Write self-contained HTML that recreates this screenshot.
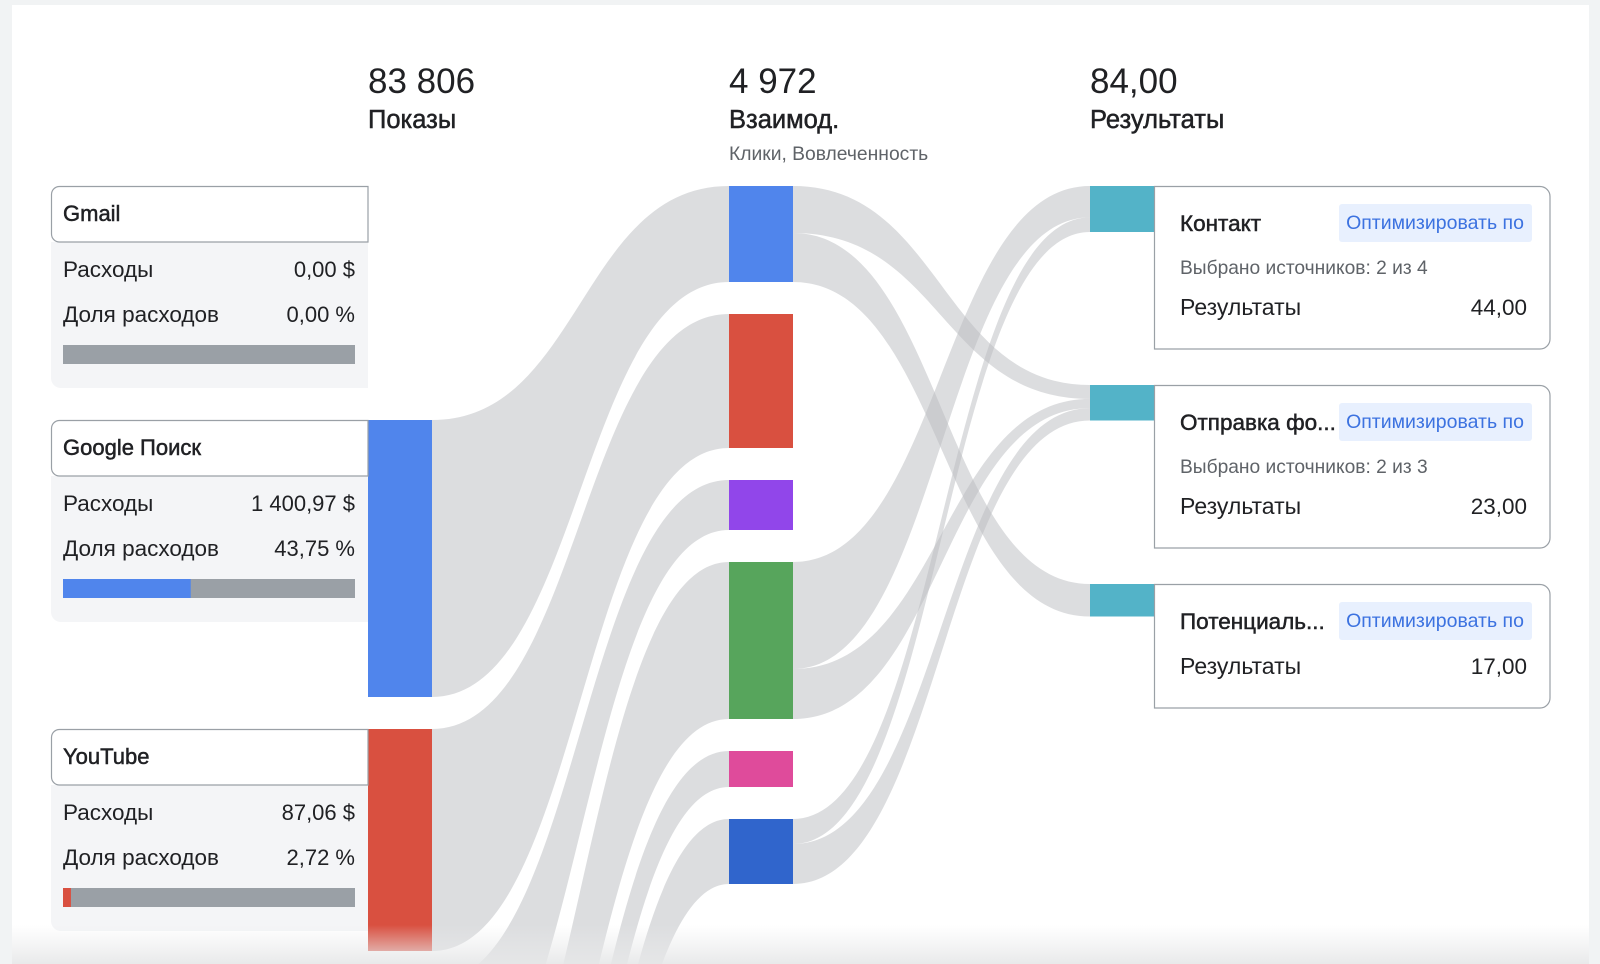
<!DOCTYPE html>
<html><head><meta charset="utf-8">
<style>
html,body{margin:0;padding:0;background:#f1f3f4;}
body{width:1600px;height:964px;overflow:hidden;position:relative;font-family:"Liberation Sans","Noto Sans CJK SC",sans-serif;}
#page{position:absolute;left:12px;top:5px;width:1577px;height:959px;background:#fff;}
svg{position:absolute;left:0;top:0;overflow:hidden;}
text{font-family:"Liberation Sans","Noto Sans CJK SC",sans-serif;}
.ttl{stroke:#202124;stroke-width:0.5px;}
</style></head>
<body>
<div id="page"></div>
<svg id="chart" width="1600" height="964" viewBox="0 0 1600 964">
  <defs>
    <linearGradient id="fade" x1="0" y1="0" x2="0" y2="1">
      <stop offset="0" stop-color="#e9eaeb" stop-opacity="0"/>
      <stop offset="1" stop-color="#e6e7e8" stop-opacity="0.9"/>
    </linearGradient>
    <clipPath id="clipall"><rect x="0" y="0" width="1600" height="964"/></clipPath>
  </defs>
  <g clip-path="url(#clipall)">
  <g id="links"></g>
  <g id="nodes"></g>
  <g id="cards"></g>
  <g id="headers"></g>
  </g>
  <rect x="12" y="925" width="1577" height="39" fill="url(#fade)"/>
</svg>
<script>
// ---- data ----
var headerValues = ["83 806", "4 972", "84,00"];
var headerTitles = ["Показы", "Взаимод.", "Результаты"];
var headerSubs = ["", "Клики, Вовлеченность", ""];

var sourceNames = ["Gmail", "Google Поиск", "YouTube", "Discover", "КМС", "Партнеры", "Прочее"];
var sourceImpressions = [0, 27700, 22200, 15000, 15000, 15000, 15000];
var sourceSpend = ["0,00 $", "1 400,97 $", "87,06 $", "", "", "", ""];
var sourceShare = [0, 43.75, 2.72, 0, 0, 0, 0];
var sourceShareText = ["0,00 %", "43,75 %", "2,72 %", "", "", "", ""];

var midClicks = [960, 1340, 500, 1570, 360, 650];
var midColors = ["#5085ec", "#d95040", "#9146ea", "#57a55c", "#df4b9b", "#3065cc"];

var resultNames = ["Контакт", "Отправка фо...", "Потенциаль..."];
var resultValues = [44, 23, 17];
var resultValueText = ["44,00", "23,00", "17,00"];
var resultSources = ["Выбрано источников: 2 из 4", "Выбрано источников: 2 из 3", ""];

// source -> middle links
var l1Src = [1, 2, 3, 4, 5, 6];
var l1Tgt = [0, 1, 2, 3, 4, 5];
var l1Imp = [27700, 22200, 15000, 15000, 15000, 15000];
// middle -> result links
var l2Src = [0, 0, 3, 3, 5, 5];
var l2Tgt = [1, 2, 0, 1, 0, 1];
var l2Clicks = [470, 490, 1070, 500, 250, 400];
var l2Results = [9, 17, 30, 6, 14, 8];

// ---- layout ----
var NS = "http://www.w3.org/2000/svg";
function mk(tag, attrs, parent) {
  var e = document.createElementNS(NS, tag);
  for (var k in attrs) e.setAttribute(k, attrs[k]);
  parent.appendChild(e);
  return e;
}
var colX = [368, 729, 1090];
var nodeW = [64, 64, 64];
var impScale = 0.01, clickScale = 0.1;
var gap = 32, top0 = 186;
var cardMinH = 202;
var VIS = 964;

var gLinks = document.getElementById("links");
var gNodes = document.getElementById("nodes");
var gCards = document.getElementById("cards");
var gHead = document.getElementById("headers");

// headers
for (var i = 0; i < 3; i++) {
  var t = mk("text", {x: colX[i], y: 93, "font-size": 35, fill: "#202124"}, gHead);
  
  
  t.textContent = headerValues[i];
  var t2 = mk("text", {x: colX[i], y: 128, "font-size": 25.5, fill: "#202124", "class": "ttl"}, gHead);
  
  
  t2.textContent = headerTitles[i];
  if (headerSubs[i]) {
    var t3 = mk("text", {x: colX[i], y: 160, "font-size": 19.3, fill: "#5f6368"}, gHead);
    
    
    t3.textContent = headerSubs[i];
  }
}

// sources
var srcY = [], srcH = [];
var y = top0;
for (var i = 0; i < sourceNames.length; i++) {
  srcY.push(y);
  var h = sourceImpressions[i] * impScale;
  srcH.push(h);
  y = Math.max(y + h, y + cardMinH) + gap;
}
for (var i = 0; i < sourceNames.length; i++) {
  var sy = srcY[i];
  if (srcH[i] > 0) {
    var r = mk("rect", {x: colX[0], y: sy, width: nodeW[0], height: srcH[i], fill: i === 1 ? "#5085ec" : (i === 2 ? "#d95040" : "#9aa0a6")}, gNodes);
    
    
  }
  if (sy > VIS) continue;
  var card = mk("g", {}, gCards);
  
  
  mk("path", {d: "M368," + (sy + 146 + 56) + " H61 a10,10 0 0 1 -10,-10 V" + (sy + 56) + " H368 Z", fill: "#f4f5f7"}, card);
  mk("path", {d: "M368," + (sy + 0.5) + " H59.5 a8,8 0 0 0 -8,8 V" + (sy + 48) + " a8,8 0 0 0 8,8 H368 Z", fill: "#fff", stroke: "#9aa0a6", "stroke-width": 1.2}, card);
  var nm = mk("text", {x: 63, y: sy + 35, "font-size": 22, fill: "#202124", "class": "ttl"}, card);
  
  
  nm.textContent = sourceNames[i];
  var a = mk("text", {x: 63, y: sy + 91, "font-size": 22.5, fill: "#202124"}, card);
  
  
  a.textContent = "Расходы";
  var b = mk("text", {x: 355, y: sy + 91, "font-size": 22, fill: "#202124", "text-anchor": "end"}, card);
  
  
  b.textContent = sourceSpend[i];
  var c = mk("text", {x: 63, y: sy + 136, "font-size": 22.5, fill: "#202124"}, card);
  
  
  c.textContent = "Доля расходов";
  var d = mk("text", {x: 355, y: sy + 136, "font-size": 22, fill: "#202124", "text-anchor": "end"}, card);
  
  
  d.textContent = sourceShareText[i];
  var bw = 292;
  var bg = mk("rect", {x: 63, y: sy + 159, width: bw, height: 19, fill: "#9aa0a6"}, card);
  
  
  var fg = mk("rect", {x: 63, y: sy + 159, width: bw * sourceShare[i] / 100, height: 19, fill: i === 2 ? "#d95040" : "#5085ec"}, card);
  
  
}

// middle nodes
var midY = [], midH = [];
y = top0;
for (var i = 0; i < midClicks.length; i++) {
  midY.push(y);
  var h = midClicks[i] * clickScale;
  midH.push(h);
  y += h + gap;
  var r = mk("rect", {x: colX[1], y: midY[i], width: nodeW[1], height: h, fill: midColors[i]}, gNodes);
  
  
}

// result nodes + cards
var resY = [], resH = [];
var cardH = [163, 163, 124];
y = top0;
for (var i = 0; i < resultValues.length; i++) {
  resY.push(y);
  var h = 24 + resultValues[i] * 0.5;
  resH.push(h);
  var r = mk("rect", {x: colX[2], y: y, width: nodeW[2], height: h, fill: "#53b3c8"}, gNodes);
  
  
  var card = mk("g", {}, gCards);
  
  
  var ch = cardH[i];
  mk("path", {d: "M1154.5," + (y + 0.5) + " H1540 a10,10 0 0 1 10,10 V" + (y + ch - 10) + " a10,10 0 0 1 -10,10 H1154.5 Z", fill: "#fff", stroke: "#9aa0a6", "stroke-width": 1.2}, card);
  var t = mk("text", {x: 1180, y: y + 45, "font-size": 22.5, fill: "#202124", "class": "ttl"}, card);
  
  
  t.textContent = resultNames[i];
  var btn = mk("g", {}, card);
  
  
  mk("rect", {x: 1339, y: y + 18, width: 193, height: 38, rx: 3, fill: "#e8f0fe"}, btn);
  var bt = mk("text", {x: 1435, y: y + 43, "font-size": 19.5, fill: "#3c72e0", "text-anchor": "middle"}, btn);
  bt.textContent = "Оптимизировать по";
  var rowY = y + 129;
  if (resultSources[i]) {
    var s = mk("text", {x: 1180, y: y + 88, "font-size": 19.2, fill: "#5f6368"}, card);
    
    
    s.textContent = resultSources[i];
  } else {
    rowY = y + 90;
  }
  var rl = mk("text", {x: 1180, y: rowY, "font-size": 23, fill: "#202124"}, card);
  
  
  rl.textContent = "Результаты";
  var rv = mk("text", {x: 1527, y: rowY, "font-size": 22.5, fill: "#202124", "text-anchor": "end"}, card);
  
  
  rv.textContent = resultValueText[i];
  y += ch + 36;
}

function ribbon(x0, a0, b0, x1, a1, b1) {
  var m = (x0 + x1) / 2;
  return "M" + x0 + "," + a0 + " C" + m + "," + a0 + " " + m + "," + a1 + " " + x1 + "," + a1 +
    " L" + x1 + "," + b1 + " C" + m + "," + b1 + " " + m + "," + b0 + " " + x0 + "," + b0 + " Z";
}

// level 1 links
var srcOff = srcY.map(function(v){return 0;});
var midIn = midY.map(function(v){return 0;});
for (var k = 0; k < l1Src.length; k++) {
  var s = l1Src[k], t = l1Tgt[k];
  var sw = l1Imp[k] / sourceImpressions[s] * srcH[s];
  var a0 = srcY[s] + srcOff[s]; srcOff[s] += sw;
  var tw = midH[t];
  var a1 = midY[t] + midIn[t]; midIn[t] += tw;
  var p = mk("path", {d: ribbon(colX[0] + nodeW[0], a0, a0 + sw, colX[1], a1, a1 + tw), fill: "#b9bbbf", "fill-opacity": 0.5}, gLinks);
  
  
}
// level 2 links
var midOff = midY.map(function(v){return 0;});
var resIn = resY.map(function(v){return 0;});
for (var k = 0; k < l2Src.length; k++) {
  var s = l2Src[k], t = l2Tgt[k];
  var sw = l2Clicks[k] / midClicks[s] * midH[s];
  var a0 = midY[s] + midOff[s]; midOff[s] += sw;
  var tw = l2Results[k] / resultValues[t] * resH[t];
  var a1 = resY[t] + resIn[t]; resIn[t] += tw;
  var p = mk("path", {d: ribbon(colX[1] + nodeW[1], a0, a0 + sw, colX[2], a1, a1 + tw), fill: "#b9bbbf", "fill-opacity": 0.5}, gLinks);
  
  
}
</script>
</body></html>
